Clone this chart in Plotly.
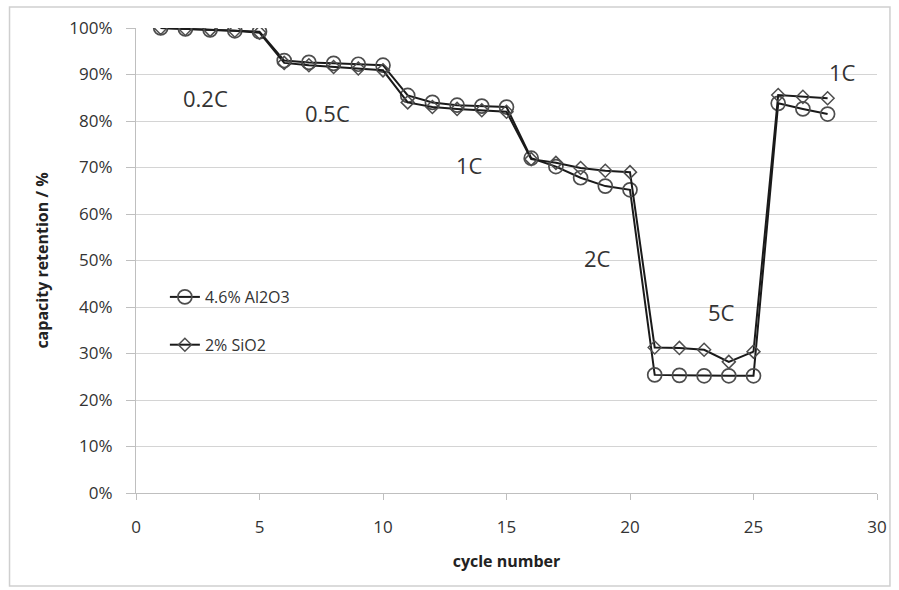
import plotly.graph_objects as go

cycles = list(range(1, 29))
al2o3 = [100.0, 99.8, 99.6, 99.4, 99.2,
         93.0, 92.6, 92.4, 92.2, 92.0,
         85.5, 84.0, 83.4, 83.2, 83.0,
         72.0, 70.2, 67.8, 66.0, 65.2,
         25.4, 25.3, 25.2, 25.2, 25.2,
         83.8, 82.6, 81.5]
sio2 = [100.0, 99.8, 99.6, 99.4, 99.0,
        92.5, 92.0, 91.6, 91.3, 90.9,
        84.0, 83.0, 82.6, 82.3, 82.0,
        71.8, 71.0, 69.9, 69.3, 69.0,
        31.3, 31.2, 30.8, 28.2, 30.4,
        85.6, 85.2, 84.9]
rate_labels = ["0.2C", "0.5C", "1C", "2C", "5C", "1C"]
rate_x = [2.8, 7.75, 13.5, 18.7, 23.7, 28.6]
rate_y = [85.0, 81.7, 70.5, 50.5, 38.9, 90.5]

fig = go.Figure()
fig.add_trace(go.Scatter(
    x=cycles, y=[v / 100 for v in al2o3], name="4.6% Al2O3",
    mode="lines+markers", legendgroup="a",
    line=dict(color="#1a1a1a", width=2),
    marker=dict(symbol="circle-open", size=14, color="#4d4d4d", line=dict(width=1.7)),
))
fig.add_trace(go.Scatter(
    x=cycles, y=[v / 100 for v in sio2], name="2% SiO2",
    mode="lines+markers", legendgroup="b",
    line=dict(color="#1a1a1a", width=2),
    marker=dict(symbol="diamond-open", size=10, color="#4d4d4d", line=dict(width=1.5)),
))

for t, x, y in zip(rate_labels, rate_x, rate_y):
    fig.add_annotation(x=x, y=y / 100, text=t, showarrow=False,
                       font=dict(family="Open Sans", size=22, color="#333333"))

L, R, T, B = 136, 19, 28, 97
W, H = 899, 590
pw, ph = W - L - R, H - T - B
def px(x):
    return (x - L) / pw
def py(y):
    return (H - B - y) / ph

fig.add_shape(type="rect", xref="paper", yref="paper",
              x0=px(9), x1=px(893), y0=py(586), y1=py(7),
              line=dict(color="#cfcfcf", width=1.5), layer="below")

fig.update_layout(
    width=W, height=H,
    margin=dict(l=L, r=R, t=T, b=B),
    paper_bgcolor="white", plot_bgcolor="white",
    font=dict(family="Open Sans", color="#333333"),
    showlegend=True,
    legend=dict(x=px(165), y=py(280), xanchor="left", yanchor="top",
                bgcolor="rgba(0,0,0,0)", font=dict(size=16, color="#333333"),
                traceorder="grouped", tracegroupgap=24, itemwidth=30),
    xaxis=dict(range=[0, 30], tickvals=[0, 5, 10, 15, 20, 25, 30],
               showgrid=False, zeroline=False, showline=True,
               linecolor="#bfbfbf", linewidth=1.2,
               ticks="outside", ticklen=6, tickcolor="#bfbfbf",
               ticklabelstandoff=12,
               tickfont=dict(family="Open Sans", size=17, color="#333333"),
               title=dict(text="<b>cycle number</b>", font=dict(family="Open Sans", size=16, color="#222222"),
                          standoff=19)),
    yaxis=dict(range=[0, 1], dtick=0.1, tickformat=".0%",
               showgrid=True, gridcolor="#d4d4d4", gridwidth=1.2,
               zeroline=False, showline=True, linecolor="#bfbfbf", linewidth=1.2,
               ticks="outside", ticklen=9, tickcolor="#bfbfbf",
               ticklabelstandoff=10,
               tickfont=dict(family="Open Sans", size=17, color="#333333"),
               title=dict(text="<b>capacity retention / %</b>", font=dict(family="Open Sans", size=16, color="#222222"),
                          standoff=16)),
)

fig.write_html("out.html")
